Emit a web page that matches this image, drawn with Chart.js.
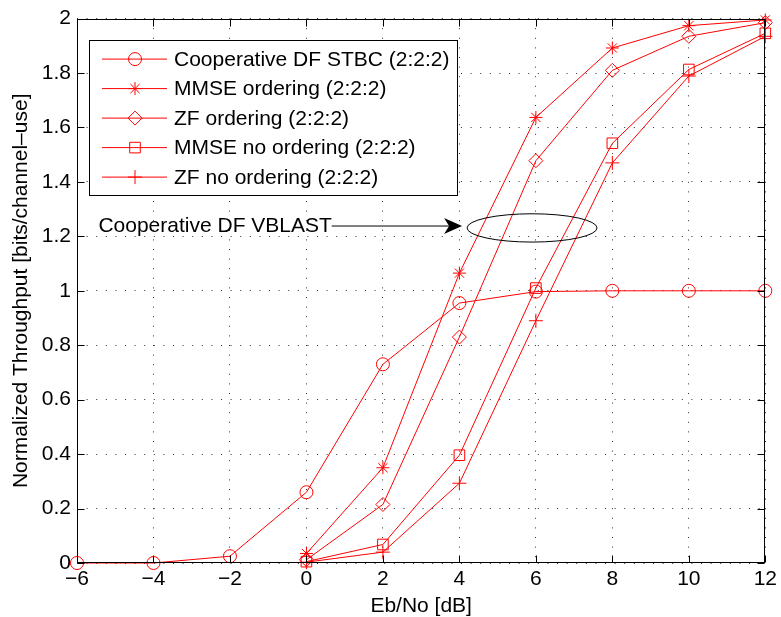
<!DOCTYPE html>
<html>
<head>
<meta charset="utf-8">
<script src="https://cdn.jsdelivr.net/npm/chart.js@4/dist/chart.umd.min.js"></script>
<style>
  html, body { margin: 0; padding: 0; background: #fff; }
  #wrap { width: 781px; height: 617px; }
</style>
</head>
<body>
<div id="wrap"><canvas id="myChart" width="781" height="617"></canvas></div>
<script>
// x values (Eb/No in dB)
const ebnoStbc = [-6, -4, -2, 0, 2, 4, 6, 8, 10, 12];
const ebnoVblast = [0, 2, 4, 6, 8, 10, 12];

// normalized throughput
const stbc = [0, 0, 0.025, 0.26, 0.73, 0.955, 0.997, 1, 1, 1];
const mmseOrdering = [0.035, 0.35, 1.065, 1.637, 1.892, 1.974, 1.995];
const zfOrdering = [0.012, 0.215, 0.83, 1.478, 1.81, 1.935, 1.985];
const mmseNoOrdering = [0.005, 0.068, 0.396, 1.01, 1.542, 1.813, 1.946];
const zfNoOrdering = [0.003, 0.04, 0.293, 0.89, 1.47, 1.789, 1.935];

const seriesNames = [
  'Cooperative DF STBC (2:2:2)',
  'MMSE ordering (2:2:2)',
  'ZF ordering (2:2:2)',
  'MMSE no ordering (2:2:2)',
  'ZF no ordering (2:2:2)'
];

const xTickValues = [-6, -4, -2, 0, 2, 4, 6, 8, 10, 12];
const xTickLabels = ['\u22126', '\u22124', '\u22122', '0', '2', '4', '6', '8', '10', '12'];
const yTickValues = [0, 0.2, 0.4, 0.6, 0.8, 1, 1.2, 1.4, 1.6, 1.8, 2];
const yTickLabels = ['0', '0.2', '0.4', '0.6', '0.8', '1', '1.2', '1.4', '1.6', '1.8', '2'];

const annotationText = 'Cooperative DF VBLAST';

const FONT = '"Liberation Sans", Arial, Helvetica, sans-serif';
const RED = '#ff0000';

function pts(xs, ys) {
  return xs.map((x, i) => ({ x: x, y: ys[i] }));
}

function series(label, xs, ys, style, radius) {
  return {
    label: label,
    data: pts(xs, ys),
    borderColor: RED,
    borderWidth: 1,
    backgroundColor: RED,
    pointStyle: style,
    pointRadius: radius,
    pointBorderColor: RED,
    pointBackgroundColor: 'rgba(0,0,0,0)',
    pointBorderWidth: 1,
    tension: 0,
    clip: false
  };
}

const datasets = [
  series(seriesNames[0], ebnoStbc, stbc, 'circle', 6.5),
  series(seriesNames[1], ebnoVblast, mmseOrdering, 'star', 6.5),
  series(seriesNames[2], ebnoVblast, zfOrdering, 'rectRot', 7),
  series(seriesNames[3], ebnoVblast, mmseNoOrdering, 'rect', 7.5),
  series(seriesNames[4], ebnoVblast, zfNoOrdering, 'cross', 7)
];

// simple marker drawer for the legend
function drawMarker(ctx, style, r, x, y) {
  ctx.beginPath();
  if (style === 'circle') {
    ctx.arc(x, y, r, 0, Math.PI * 2);
  } else if (style === 'rect') {
    const s = r * Math.SQRT1_2;
    ctx.rect(x - s, y - s, 2 * s, 2 * s);
  } else if (style === 'rectRot') {
    ctx.moveTo(x - r, y); ctx.lineTo(x, y - r); ctx.lineTo(x + r, y); ctx.lineTo(x, y + r);
    ctx.closePath();
  } else if (style === 'cross' || style === 'star') {
    ctx.moveTo(x, y - r); ctx.lineTo(x, y + r);
    ctx.moveTo(x - r, y); ctx.lineTo(x + r, y);
    if (style === 'star') {
      const d = r * Math.SQRT1_2;
      ctx.moveTo(x - d, y - d); ctx.lineTo(x + d, y + d);
      ctx.moveTo(x - d, y + d); ctx.lineTo(x + d, y - d);
    }
  }
  ctx.stroke();
}

const framePlugin = {
  id: 'frame',
  afterDatasetsDraw(chart) {
    const { ctx, chartArea: a, scales: { x, y } } = chart;
    ctx.save();
    ctx.strokeStyle = '#000';
    ctx.lineWidth = 1;
    const L = Math.round(a.left) + 0.5, R = Math.round(a.right) - 0.5;
    const T = Math.round(a.top) + 0.5, B = Math.round(a.bottom) - 0.5;
    ctx.strokeRect(L, T, R - L, B - T);
    // inward ticks on all four sides
    ctx.beginPath();
    xTickValues.forEach(v => {
      const px = Math.round(x.getPixelForValue(v)) + 0.5;
      ctx.moveTo(px, B); ctx.lineTo(px, B - 7);
      ctx.moveTo(px, T); ctx.lineTo(px, T + 7);
    });
    yTickValues.forEach(v => {
      const py = Math.round(y.getPixelForValue(v)) + 0.5;
      ctx.moveTo(L, py); ctx.lineTo(L + 7, py);
      ctx.moveTo(R, py); ctx.lineTo(R - 7, py);
    });
    ctx.stroke();

    // annotation: text, arrow, ellipse (positions in data units)
    ctx.fillStyle = '#000';
    ctx.font = '21px ' + FONT;
    ctx.textBaseline = 'middle';
    ctx.textAlign = 'left';
    const ty = y.getPixelForValue(1.238);
    ctx.fillText(annotationText, x.getPixelForValue(-5.44), ty);
    const ax0 = x.getPixelForValue(0.66), ax1 = x.getPixelForValue(4.07);
    ctx.beginPath();
    ctx.moveTo(ax0, ty); ctx.lineTo(ax1 - 12, ty);
    ctx.stroke();
    ctx.beginPath();
    ctx.moveTo(ax1, ty);
    ctx.lineTo(ax1 - 18, ty - 8);
    ctx.lineTo(ax1 - 13, ty);
    ctx.lineTo(ax1 - 18, ty + 8);
    ctx.closePath();
    ctx.fill();
    const ecx = x.getPixelForValue(5.9), ecy = y.getPixelForValue(1.231);
    const erx = x.getPixelForValue(5.9 + 1.7) - ecx;
    const ery = y.getPixelForValue(1.231) - y.getPixelForValue(1.231 + 0.052);
    ctx.beginPath();
    ctx.ellipse(ecx, ecy, erx, ery, 0, 0, Math.PI * 2);
    ctx.stroke();

    // legend box
    const lx = a.left + 12, ly = a.top + 21, lw = 368, lh = 155;
    ctx.fillStyle = '#fff';
    ctx.fillRect(lx, ly, lw, lh);
    ctx.strokeRect(Math.round(lx) + 0.5, Math.round(ly) + 0.5, lw, lh);
    chart.data.datasets.forEach((ds, i) => {
      const ry = ly + 19.5 + i * 29.5;
      ctx.strokeStyle = RED;
      ctx.beginPath();
      ctx.moveTo(lx + 13, ry); ctx.lineTo(lx + 78, ry);
      ctx.stroke();
      drawMarker(ctx, ds.pointStyle, ds.pointRadius, lx + 46, ry);
      ctx.fillStyle = '#000';
      ctx.fillText(ds.label, lx + 85, ry + 1);
    });
    ctx.restore();
  }
};

const ctx = document.getElementById('myChart').getContext('2d');
new Chart(ctx, {
  type: 'line',
  data: { datasets: datasets },
  options: {
    responsive: false,
    animation: false,
    layout: { padding: { left: 0, top: 18, right: 14, bottom: 0 } },
    plugins: {
      legend: { display: false },
      tooltip: { enabled: false }
    },
    scales: {
      x: {
        type: 'linear',
        min: -6,
        max: 12,
        afterFit: s => { s.height = 54; },
        afterBuildTicks: s => { s.ticks = xTickValues.map(v => ({ value: v })); },
        ticks: {
          color: '#000',
          font: { family: FONT, size: 21 },
          padding: 4,
          maxRotation: 0,
          callback: v => xTickLabels[xTickValues.indexOf(v)]
        },
        grid: { color: '#333', lineWidth: 1, drawTicks: false },
        border: { display: false, dash: [1, 8.6] },
        title: {
          display: true,
          text: 'Eb/No [dB]',
          color: '#000',
          font: { family: FONT, size: 21, lineHeight: 1 },
          padding: { top: 0, bottom: 0 }
        }
      },
      y: {
        type: 'linear',
        min: 0,
        max: 2,
        afterFit: s => { s.width = 77; },
        afterBuildTicks: s => { s.ticks = yTickValues.map(v => ({ value: v })); },
        ticks: {
          color: '#000',
          font: { family: FONT, size: 21 },
          padding: 6,
          callback: v => yTickLabels[yTickValues.indexOf(v)]
        },
        grid: { color: '#333', lineWidth: 1, drawTicks: false },
        border: { display: false, dash: [1, 8.6] },
        title: {
          display: true,
          text: 'Normalized Throughput [bits/channel\u2013use]',
          color: '#000',
          font: { family: FONT, size: 21, lineHeight: 1 },
          padding: { top: 11, bottom: 0 }
        }
      }
    }
  },
  plugins: [framePlugin]
});
</script>
</body>
</html>
